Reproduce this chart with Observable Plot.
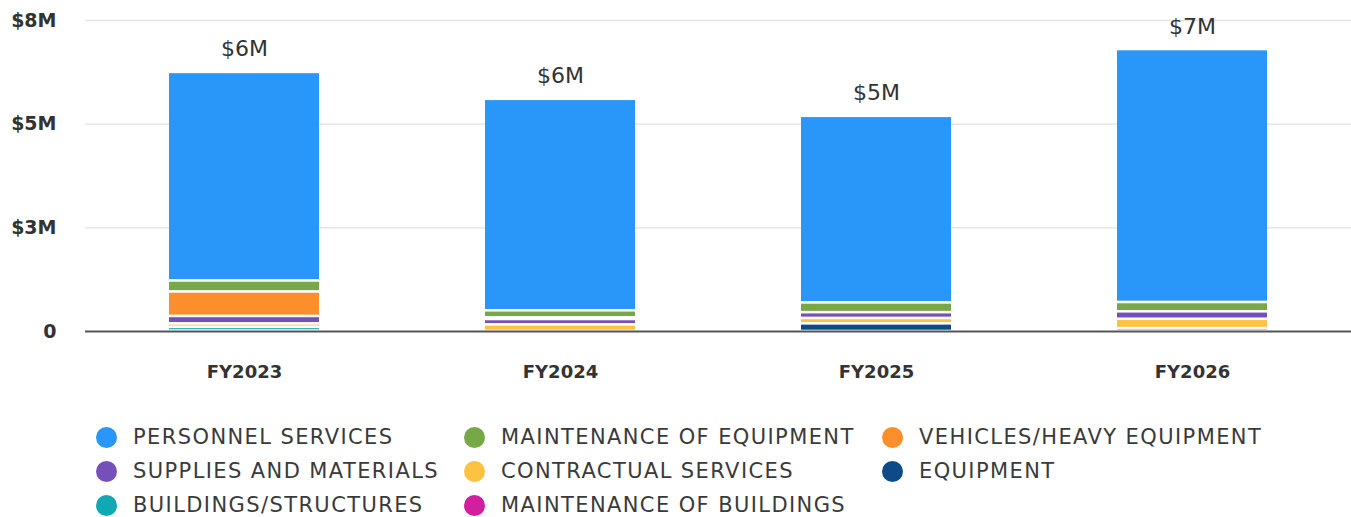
<!DOCTYPE html>
<html>
<head>
<meta charset="utf-8">
<script src="https://cdn.jsdelivr.net/npm/d3@7"></script>
<script src="https://cdn.jsdelivr.net/npm/@observablehq/plot@0.6"></script>
<style>
  html, body { margin: 0; padding: 0; background: #fff; }
  body { width: 1351px; height: 517px; overflow: hidden; font-family: "DejaVu Sans", sans-serif; }
  #legend { position: relative; height: 100px; margin-top: 20px; }
  .item { position: absolute; display: flex; align-items: center; height: 34px; color: #3a3a3a; font-size: 21px; font-weight: 400; letter-spacing: 1.4px; white-space: nowrap; }
  .dot { width: 21px; height: 21px; border-radius: 50%; margin-right: 16px; flex: none; }
</style>
</head>
<body>
<div id="chart"></div>
<div id="legend"></div>
<script>
// ---- data (values in $ millions) ----
const years = ["FY2023", "FY2024", "FY2025", "FY2026"];
const categories = [
  "PERSONNEL SERVICES", "MAINTENANCE OF EQUIPMENT", "VEHICLES/HEAVY EQUIPMENT",
  "SUPPLIES AND MATERIALS", "CONTRACTUAL SERVICES", "EQUIPMENT",
  "BUILDINGS/STRUCTURES", "MAINTENANCE OF BUILDINGS"
];
const colors = ["#2997f9", "#76a845", "#fc8f2c", "#7650b9", "#fdc23f", "#0d4a88", "#10a8b5", "#d21f9e"];
const personnel      = [5.03, 5.10, 4.50, 6.10];
const maintEquipment = [0.265, 0.17, 0.235, 0.225];
const vehicles       = [0.59, 0.04, 0, 0];
const supplies       = [0.18, 0.13, 0.14, 0.18];
const contractual    = [0.084, 0.16, 0.13, 0.225];
const equipment      = [0, 0, 0.185, 0];
const buildings      = [0.09, 0, 0, 0];
const maintBuildings = [0.01, 0, 0, 0.07];
const yTicks = [0, 2.5, 5, 7.5];
const yTickLabels = ["0", "$3M", "$5M", "$8M"];

const series = [personnel, maintEquipment, vehicles, supplies, contractual, equipment, buildings, maintBuildings];
const rows = [];
// stack bottom-to-top in reverse legend order (personnel on top)
for (let c = categories.length - 1; c >= 0; c--) {
  years.forEach((yr, i) => rows.push({year: yr, category: categories[c], value: series[c][i], order: categories.length - c}));
}
const totals = years.map((yr, i) => ({year: yr, total: d3.sum(series, s => s[i])}));

const chart = Plot.plot({
  width: 1351,
  height: 400,
  marginTop: 20,
  marginBottom: 69,
  marginLeft: 85,
  marginRight: 0,
  style: {fontFamily: "DejaVu Sans, sans-serif", color: "#333", background: "#fff"},
  x: {domain: years, paddingInner: 0.525, paddingOuter: 0.2625, label: null, tickSize: 0, tickPadding: 34},
  y: {domain: [0, 7.5], ticks: yTicks, tickFormat: (d) => yTickLabels[yTicks.indexOf(d)], label: null, tickSize: 0, tickPadding: 29, grid: false},
  color: {domain: categories, range: colors},
  marks: [
    Plot.ruleY(yTicks.slice(1), {stroke: "#e6e6e6", strokeWidth: 1.5, strokeOpacity: 1}),
    Plot.barY(rows, Plot.stackY({order: "order"}, {x: "year", y: "value", fill: "category", insetTop: 1.3, insetBottom: 1.3})),
    Plot.ruleY([0], {stroke: "#555", strokeWidth: 2}),
    Plot.text(totals, {x: "year", y: "total", text: d => "$" + d3.format(".0f")(d.total) + "M", dy: -23, fontSize: 22, fontWeight: 500, fill: "#333"})
  ]
});
chart.querySelectorAll('[aria-label="x-axis tick label"] text, [aria-label="y-axis tick label"] text').forEach(t => {
  t.style.fontWeight = "700"; t.style.fill = "#333";
});
chart.querySelectorAll('[aria-label="x-axis tick label"]').forEach(g => g.setAttribute("font-size", "18"));
chart.querySelectorAll('[aria-label="y-axis tick label"]').forEach(g => g.setAttribute("font-size", "19"));
document.getElementById("chart").appendChild(chart);

// legend
const colX = [96, 464, 882];
const legend = document.getElementById("legend");
categories.forEach((c, i) => {
  const el = document.createElement("div");
  el.className = "item";
  el.style.left = colX[i % 3] + "px";
  el.style.top = (Math.floor(i / 3) * 34) + "px";
  el.innerHTML = `<span class="dot" style="background:${colors[i]}"></span><span>${c}</span>`;
  legend.appendChild(el);
});
</script>
</body>
</html>
